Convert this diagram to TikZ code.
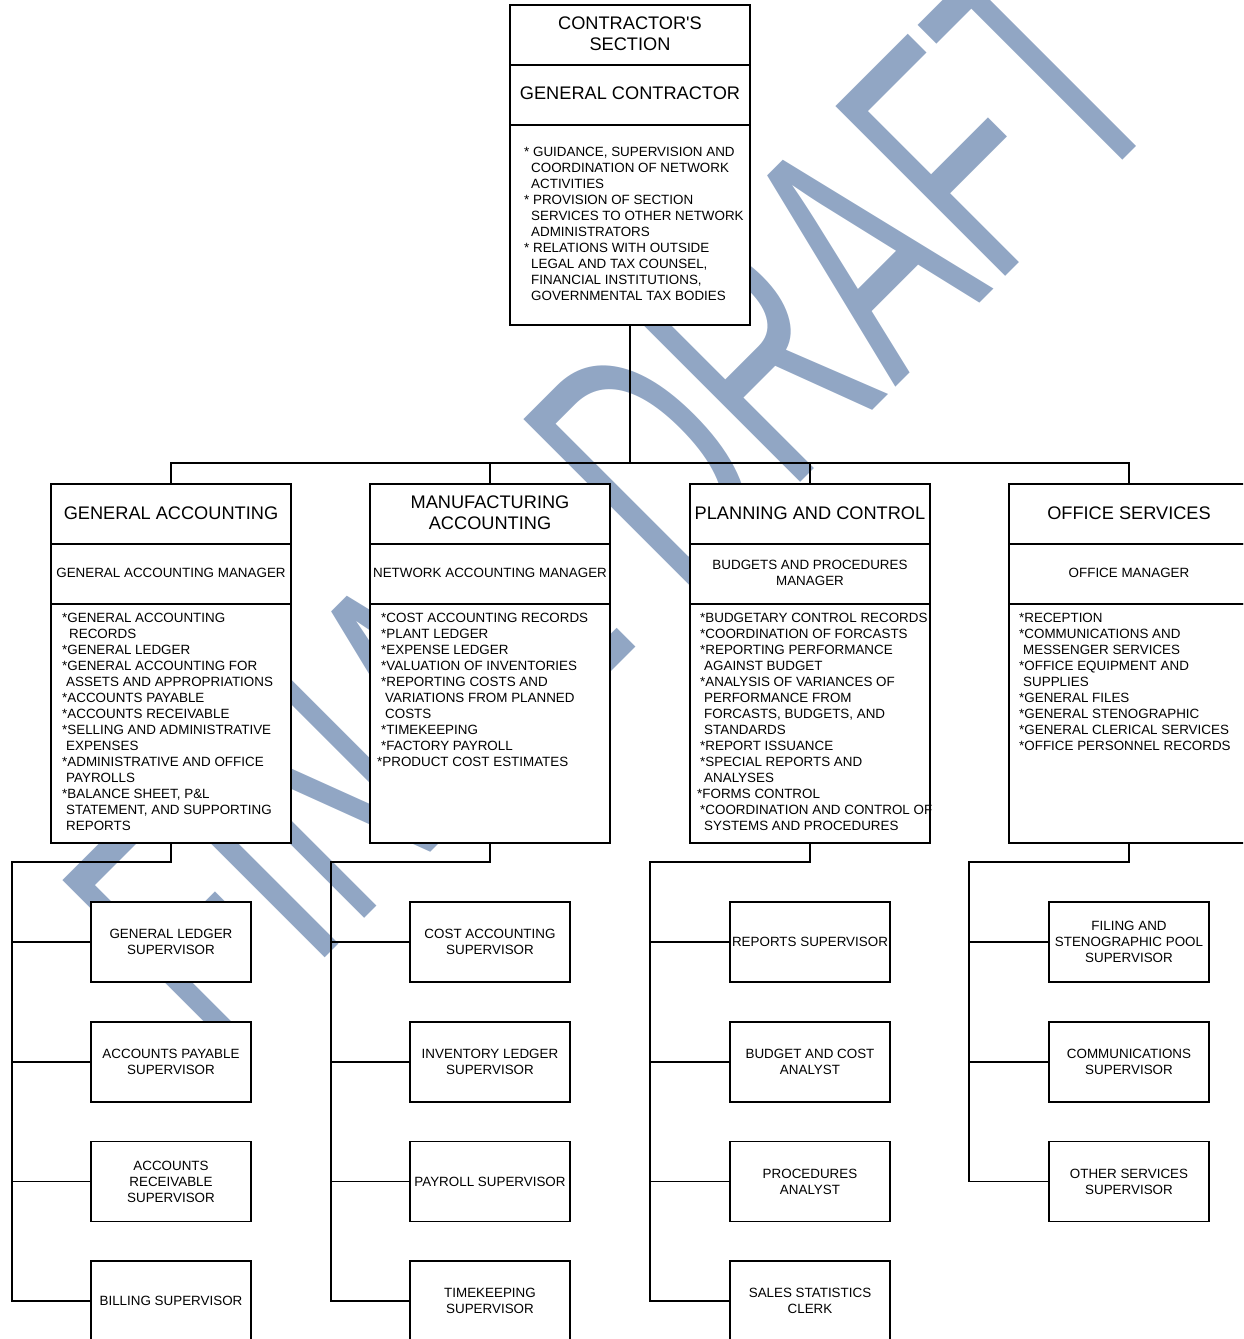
\documentclass[tikz,border=0pt]{standalone}
\usepackage{fontspec}
\newfontfamily\chartfont{Liberation Sans}
\usepackage{tikz}
\definecolor{wmblue}{RGB}{145,166,196}
\newcommand{\hdfont}{\chartfont\fontsize{18.2}{21}\selectfont}
\newcommand{\bdfont}{\chartfont\fontsize{13.4}{16}\selectfont}
\newcommand{\wmfont}{\chartfont\fontsize{349}{349}\selectfont}
\newcommand{\ind}{\hspace*{4pt}}

\begin{document}
\begin{tikzpicture}[x=1pt, y=-1pt, font=\bdfont]
%% the chart is laid out in pixel units of the original drawing (1px = 1pt)
%% boxes are filled white so that the watermark only shows between them
\tikzstyle{orgbox}=[draw, fill=white, line width=1.3pt, inner sep=0pt, minimum width=240pt]
\tikzstyle{headbox}=[orgbox, minimum height=60pt]
\tikzstyle{dutybox}=[orgbox, minimum height=239pt]
\tikzstyle{topdutybox}=[orgbox, minimum height=200pt]
\tikzstyle{subbox}=[orgbox, minimum width=160pt, minimum height=80pt]
\tikzstyle{headtext}=[font=\hdfont, align=center, inner sep=0pt]
\tikzstyle{bodytext}=[font=\bdfont, align=center, inner sep=0pt]
\tikzstyle{dutytext}=[font=\bdfont, align=left, anchor=north west, inner sep=0pt]
\tikzstyle{conn}=[line width=1.3pt]
\tikzstyle{wmtext}=[font=\wmfont, text=wmblue, anchor=base west, inner sep=0pt, rotate=45, xscale=0.6]
\useasboundingbox (0,0) rectangle (1243,1339);
\clip (0,0) rectangle (1243,1339);
%% watermark %%
\coordinate (WMorigin) at (220.7,1062.2);
\node[wmtext] at (WMorigin) (Watermark) {FINAL DRAFT};
%% TikZ-figure elements %%
%% contractor's section
\node[headbox] at (630,35) (TopHead) {};
\draw (630,34) node[headtext] (TopHeadLbl) {CONTRACTOR'S\\SECTION};
\node[headbox] at (630,95) (TopRole) {};
\draw (630,93.5) node[headtext] (TopRoleLbl) {GENERAL CONTRACTOR};
\node[topdutybox] at (630,225) (TopDuty) {};
%% label for duties of the general contractor
\draw (524,147) node[dutytext] (TopDutyLbl) {* GUIDANCE, SUPERVISION AND\\\hspace*{7pt}COORDINATION OF NETWORK\\\hspace*{7pt}ACTIVITIES\\{}* PROVISION OF SECTION\\\hspace*{7pt}SERVICES TO OTHER NETWORK\\\hspace*{7pt}ADMINISTRATORS\\{}* RELATIONS WITH OUTSIDE\\\hspace*{7pt}LEGAL AND TAX COUNSEL,\\\hspace*{7pt}FINANCIAL INSTITUTIONS,\\\hspace*{7pt}GOVERNMENTAL TAX BODIES};
%% general accounting
\node[headbox] at (171,514) (GAhead) {};
\draw (171,513) node[headtext] (GAheadLbl) {GENERAL ACCOUNTING};
\node[headbox] at (171,574) (GAmgr) {};
\draw (171,573) node[bodytext] (GAmgrLbl) {GENERAL ACCOUNTING MANAGER};
\node[dutybox] at (171,723.5) (GAduty) {};
%% label for duties of general accounting
\draw (62,613) node[dutytext] (GAdutyLbl) {*GENERAL ACCOUNTING\\\hspace*{7pt}RECORDS\\{}*GENERAL LEDGER\\{}*GENERAL ACCOUNTING FOR\\\ind ASSETS AND APPROPRIATIONS\\{}*ACCOUNTS PAYABLE\\{}*ACCOUNTS RECEIVABLE\\{}*SELLING AND ADMINISTRATIVE\\\ind EXPENSES\\{}*ADMINISTRATIVE AND OFFICE\\\ind PAYROLLS\\{}*BALANCE SHEET, P\&L\\\ind STATEMENT, AND SUPPORTING\\\ind REPORTS};
%% manufacturing accounting
\node[headbox] at (490,514) (MAhead) {};
\draw (490,512.5) node[headtext] (MAheadLbl) {MANUFACTURING\\ACCOUNTING};
\node[headbox] at (490,574) (MAmgr) {};
\draw (490,573) node[bodytext] (MAmgrLbl) {NETWORK ACCOUNTING MANAGER};
\node[dutybox] at (490,723.5) (MAduty) {};
%% label for duties of manufacturing accounting
\draw (381,613) node[dutytext] (MAdutyLbl) {*COST ACCOUNTING RECORDS\\{}*PLANT LEDGER\\{}*EXPENSE LEDGER\\{}*VALUATION OF INVENTORIES\\{}*REPORTING COSTS AND\\\ind VARIATIONS FROM PLANNED\\\ind COSTS\\{}*TIMEKEEPING\\{}*FACTORY PAYROLL\\\hspace*{-4pt}*PRODUCT COST ESTIMATES};
%% planning and control
\node[headbox] at (810,514) (PChead) {};
\draw (810,513) node[headtext] (PCheadLbl) {PLANNING AND CONTROL};
\node[headbox] at (810,574) (PCmgr) {};
\draw (810,573) node[bodytext] (PCmgrLbl) {BUDGETS AND PROCEDURES\\MANAGER};
\node[dutybox] at (810,723.5) (PCduty) {};
%% label for duties of planning and control
\draw (700,613) node[dutytext] (PCdutyLbl) {*BUDGETARY CONTROL RECORDS\\{}*COORDINATION OF FORCASTS\\{}*REPORTING PERFORMANCE\\\ind AGAINST BUDGET\\{}*ANALYSIS OF VARIANCES OF\\\ind PERFORMANCE FROM\\\ind FORCASTS, BUDGETS, AND\\\ind STANDARDS\\{}*REPORT ISSUANCE\\{}*SPECIAL REPORTS AND\\\ind ANALYSES\\\hspace*{-3pt}*FORMS CONTROL\\{}*COORDINATION AND CONTROL OF\\\ind SYSTEMS AND PROCEDURES};
%% office services
\node[headbox] at (1129,514) (OShead) {};
\draw (1129,513) node[headtext] (OSheadLbl) {OFFICE SERVICES};
\node[headbox] at (1129,574) (OSmgr) {};
\draw (1129,573) node[bodytext] (OSmgrLbl) {OFFICE MANAGER};
\node[dutybox] at (1129,723.5) (OSduty) {};
%% label for duties of office services
\draw (1019,613) node[dutytext] (OSdutyLbl) {*RECEPTION\\{}*COMMUNICATIONS AND\\\ind MESSENGER SERVICES\\{}*OFFICE EQUIPMENT AND\\\ind SUPPLIES\\{}*GENERAL FILES\\{}*GENERAL STENOGRAPHIC\\{}*GENERAL CLERICAL SERVICES\\{}*OFFICE PERSONNEL RECORDS};
%% supervisors under general accounting
\node[subbox] at (171,942) (GAsub1) {};
\draw (171,942) node[bodytext] (GAsub1Lbl) {GENERAL LEDGER\\SUPERVISOR};
\node[subbox] at (171,1062) (GAsub2) {};
\draw (171,1062) node[bodytext] (GAsub2Lbl) {ACCOUNTS PAYABLE\\SUPERVISOR};
\node[subbox] at (171,1181.5) (GAsub3) {};
\draw (171,1181.5) node[bodytext] (GAsub3Lbl) {ACCOUNTS\\RECEIVABLE\\SUPERVISOR};
\node[subbox] at (171,1301) (GAsub4) {};
\draw (171,1301) node[bodytext] (GAsub4Lbl) {BILLING SUPERVISOR};
%% supervisors under manufacturing accounting
\node[subbox] at (490,942) (MAsub1) {};
\draw (490,942) node[bodytext] (MAsub1Lbl) {COST ACCOUNTING\\SUPERVISOR};
\node[subbox] at (490,1062) (MAsub2) {};
\draw (490,1062) node[bodytext] (MAsub2Lbl) {INVENTORY LEDGER\\SUPERVISOR};
\node[subbox] at (490,1181.5) (MAsub3) {};
\draw (490,1181.5) node[bodytext] (MAsub3Lbl) {PAYROLL SUPERVISOR};
\node[subbox] at (490,1301) (MAsub4) {};
\draw (490,1301) node[bodytext] (MAsub4Lbl) {TIMEKEEPING\\SUPERVISOR};
%% staff under planning and control
\node[subbox] at (810,942) (PCsub1) {};
\draw (810,942) node[bodytext] (PCsub1Lbl) {REPORTS SUPERVISOR};
\node[subbox] at (810,1062) (PCsub2) {};
\draw (810,1062) node[bodytext] (PCsub2Lbl) {BUDGET AND COST\\ANALYST};
\node[subbox] at (810,1181.5) (PCsub3) {};
\draw (810,1181.5) node[bodytext] (PCsub3Lbl) {PROCEDURES\\ANALYST};
\node[subbox] at (810,1301) (PCsub4) {};
\draw (810,1301) node[bodytext] (PCsub4Lbl) {SALES STATISTICS\\CLERK};
%% supervisors under office services
\node[subbox] at (1129,942) (OSsub1) {};
\draw (1129,942) node[bodytext] (OSsub1Lbl) {FILING AND\\STENOGRAPHIC POOL\\SUPERVISOR};
\node[subbox] at (1129,1062) (OSsub2) {};
\draw (1129,1062) node[bodytext] (OSsub2Lbl) {COMMUNICATIONS\\SUPERVISOR};
\node[subbox] at (1129,1181.5) (OSsub3) {};
\draw (1129,1181.5) node[bodytext] (OSsub3Lbl) {OTHER SERVICES\\SUPERVISOR};
%% connectors from the contractor's section to the four divisions
\coordinate (Bus) at (630,463);
\draw[conn] (TopDuty.south) -- (Bus);
\draw[conn] (Bus) -| (GAhead.north);
\draw[conn] (Bus) -| (MAhead.north);
\draw[conn] (Bus) -| (PChead.north);
\draw[conn] (Bus) -| (OShead.north);
%% connectors inside general accounting
\coordinate (GAjoin) at (12,862);
\draw[conn] (GAduty.south) |- (GAjoin) |- (GAsub4.west);
\draw[conn] (GAsub1.west) -- (GAsub1.west -| GAjoin);
\draw[conn] (GAsub2.west) -- (GAsub2.west -| GAjoin);
\draw[conn] (GAsub3.west) -- (GAsub3.west -| GAjoin);
%% connectors inside manufacturing accounting
\coordinate (MAjoin) at (331,862);
\draw[conn] (MAduty.south) |- (MAjoin) |- (MAsub4.west);
\draw[conn] (MAsub1.west) -- (MAsub1.west -| MAjoin);
\draw[conn] (MAsub2.west) -- (MAsub2.west -| MAjoin);
\draw[conn] (MAsub3.west) -- (MAsub3.west -| MAjoin);
%% connectors inside planning and control
\coordinate (PCjoin) at (650,862);
\draw[conn] (PCduty.south) |- (PCjoin) |- (PCsub4.west);
\draw[conn] (PCsub1.west) -- (PCsub1.west -| PCjoin);
\draw[conn] (PCsub2.west) -- (PCsub2.west -| PCjoin);
\draw[conn] (PCsub3.west) -- (PCsub3.west -| PCjoin);
%% connectors inside office services
\coordinate (OSjoin) at (969,862);
\draw[conn] (OSduty.south) |- (OSjoin) |- (OSsub3.west);
\draw[conn] (OSsub1.west) -- (OSsub1.west -| OSjoin);
\draw[conn] (OSsub2.west) -- (OSsub2.west -| OSjoin);
\end{tikzpicture}
\end{document}
